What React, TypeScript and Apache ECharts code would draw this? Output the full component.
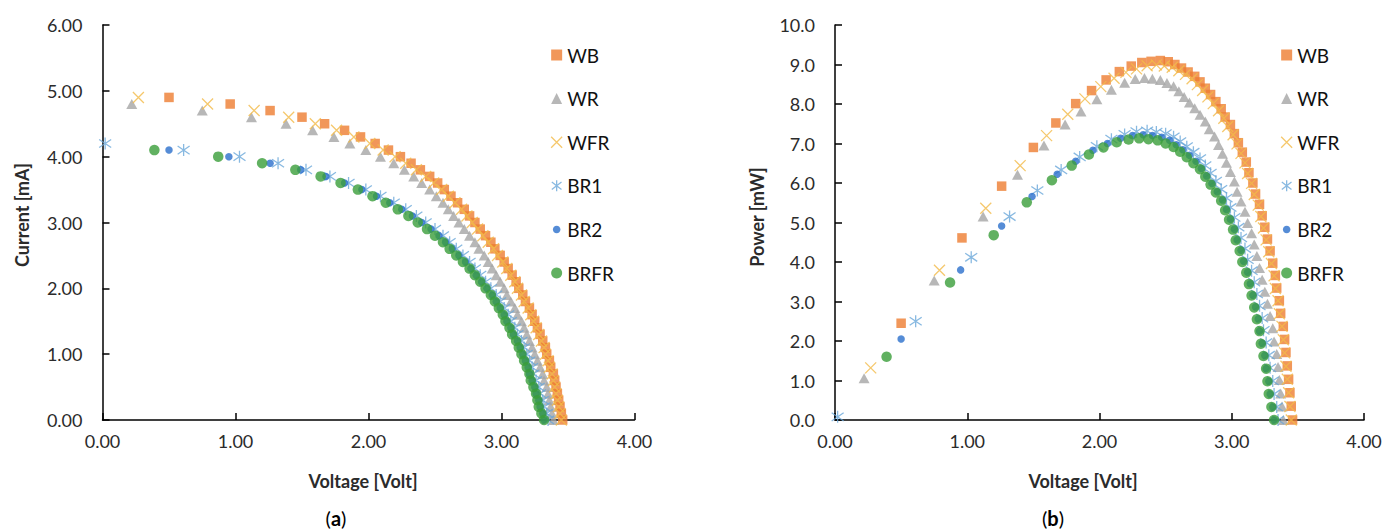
import React, { useEffect, useRef } from "react";
import * as echarts from "echarts";

// ---------- data ----------
const SERIES_NAMES = ["WB", "WR", "WFR", "BR1", "BR2", "BRFR"];

// load current steps (mA), shared by the series
const CURRENT_STEPS = [
  4.9, 4.8, 4.7, 4.6, 4.5, 4.4, 4.3, 4.2, 4.1, 4.0,
  3.9, 3.8, 3.7, 3.6, 3.5, 3.4, 3.3, 3.2, 3.1, 3.0,
  2.9, 2.8, 2.7, 2.6, 2.5, 2.4, 2.3, 2.2, 2.1, 2.0,
  1.9, 1.8, 1.7, 1.6, 1.5, 1.4, 1.3, 1.2, 1.1, 1.0,
  0.9, 0.8, 0.7, 0.6, 0.5, 0.4, 0.3, 0.2, 0.1, 0.0,
];
const wbCurrent = CURRENT_STEPS;
const wrCurrent = CURRENT_STEPS.slice(1);
const wfrCurrent = CURRENT_STEPS;
const br1Current = CURRENT_STEPS.slice(7);
const br2Current = CURRENT_STEPS.slice(8);
const brfrCurrent = CURRENT_STEPS.slice(8);

// voltages (Volt)
const wbVoltage = [
  0.50, 0.96, 1.26, 1.50, 1.67, 1.82, 1.94, 2.05, 2.15, 2.24,
  2.32, 2.39, 2.46, 2.52, 2.57, 2.62, 2.67, 2.72, 2.76, 2.80,
  2.84, 2.88, 2.92, 2.95, 2.99, 3.02, 3.05, 3.08, 3.11, 3.13,
  3.16, 3.18, 3.21, 3.23, 3.25, 3.27, 3.29, 3.31, 3.33, 3.34,
  3.36, 3.37, 3.39, 3.40, 3.41, 3.42, 3.43, 3.44, 3.45, 3.46,
];
const wrVoltage = [
  0.22, 0.75, 1.12, 1.38, 1.58, 1.74, 1.86, 1.98, 2.09,
  2.19, 2.27, 2.34, 2.40, 2.46, 2.51, 2.56, 2.60, 2.64, 2.68,
  2.72, 2.76, 2.80, 2.83, 2.87, 2.90, 2.93, 2.96, 2.99, 3.02,
  3.04, 3.07, 3.10, 3.12, 3.15, 3.17, 3.19, 3.21, 3.23, 3.25,
  3.27, 3.29, 3.31, 3.32, 3.34, 3.35, 3.36, 3.37, 3.38, 3.39,
];
const wfrVoltage = [
  0.27, 0.79, 1.14, 1.40, 1.60, 1.76, 1.89, 2.01, 2.11, 2.20,
  2.28, 2.36, 2.43, 2.49, 2.55, 2.60, 2.65, 2.70, 2.74, 2.78,
  2.82, 2.86, 2.90, 2.94, 2.97, 3.01, 3.04, 3.07, 3.10, 3.12,
  3.15, 3.17, 3.20, 3.22, 3.24, 3.26, 3.28, 3.30, 3.32, 3.33,
  3.35, 3.36, 3.38, 3.39, 3.40, 3.41, 3.42, 3.43, 3.44, 3.45,
];
const br1Voltage = [
  0.02, 0.61, 1.03,
  1.32, 1.53, 1.71, 1.85, 1.98, 2.09, 2.19, 2.28, 2.36, 2.43,
  2.50, 2.56, 2.61, 2.66, 2.71, 2.76, 2.80, 2.84, 2.88, 2.92,
  2.96, 2.99, 3.02, 3.05, 3.07, 3.10, 3.12, 3.15, 3.17, 3.19,
  3.21, 3.23, 3.24, 3.26, 3.28, 3.29, 3.31, 3.32, 3.34, 3.35,
];
const br2Voltage = [
  0.50, 0.95,
  1.26, 1.49, 1.68, 1.82, 1.95, 2.06, 2.16, 2.25, 2.33, 2.40,
  2.47, 2.53, 2.58, 2.63, 2.68, 2.73, 2.77, 2.81, 2.85, 2.89,
  2.93, 2.96, 2.99, 3.02, 3.04, 3.07, 3.09, 3.12, 3.14, 3.16,
  3.18, 3.20, 3.21, 3.23, 3.25, 3.26, 3.28, 3.29, 3.31, 3.32,
];
const brfrVoltage = [
  0.39, 0.87,
  1.20, 1.45, 1.64, 1.79, 1.92, 2.03, 2.13, 2.22, 2.30, 2.37,
  2.44, 2.50, 2.56, 2.61, 2.66, 2.71, 2.76, 2.80, 2.84, 2.88,
  2.92, 2.95, 2.98, 3.01, 3.03, 3.06, 3.08, 3.11, 3.13, 3.15,
  3.17, 3.19, 3.21, 3.22, 3.24, 3.26, 3.27, 3.28, 3.30, 3.32,
];

// power (mW)
const wbPower = [
  2.45, 4.61, 5.92, 6.90, 7.52, 8.01, 8.34, 8.61, 8.82, 8.96,
  9.05, 9.08, 9.10, 9.07, 9.00, 8.91, 8.81, 8.70, 8.56, 8.40,
  8.24, 8.06, 7.88, 7.67, 7.48, 7.25, 7.02, 6.78, 6.53, 6.26,
  6.00, 5.72, 5.46, 5.17, 4.88, 4.58, 4.28, 3.97, 3.66, 3.34,
  3.02, 2.70, 2.37, 2.04, 1.71, 1.37, 1.03, 0.69, 0.35, 0.00,
];
const wrPower = [
  1.06, 3.53, 5.15, 6.21, 6.95, 7.48, 7.81, 8.12, 8.36,
  8.54, 8.63, 8.66, 8.64, 8.61, 8.53, 8.45, 8.32, 8.18, 8.04,
  7.89, 7.73, 7.56, 7.36, 7.18, 6.96, 6.74, 6.51, 6.28, 6.04,
  5.78, 5.53, 5.27, 4.99, 4.73, 4.44, 4.15, 3.85, 3.55, 3.25,
  2.94, 2.63, 2.32, 1.99, 1.67, 1.34, 1.01, 0.67, 0.34, 0.00,
];
const wfrPower = [
  1.32, 3.79, 5.36, 6.44, 7.20, 7.74, 8.13, 8.44, 8.65, 8.80,
  8.89, 8.97, 8.99, 8.96, 8.93, 8.84, 8.75, 8.64, 8.49, 8.34,
  8.18, 8.01, 7.83, 7.64, 7.43, 7.22, 6.99, 6.75, 6.51, 6.24,
  5.99, 5.71, 5.44, 5.15, 4.86, 4.56, 4.26, 3.96, 3.65, 3.33,
  3.02, 2.69, 2.37, 2.03, 1.70, 1.36, 1.03, 0.69, 0.34, 0.00,
];
const br1Power = [
  0.08, 2.50, 4.12,
  5.15, 5.81, 6.33, 6.66, 6.93, 7.11, 7.23, 7.30, 7.32, 7.29,
  7.25, 7.17, 7.05, 6.92, 6.78, 6.62, 6.44, 6.25, 6.05, 5.84,
  5.62, 5.38, 5.13, 4.88, 4.61, 4.34, 4.06, 3.78, 3.49, 3.19,
  2.89, 2.58, 2.27, 1.96, 1.64, 1.32, 0.99, 0.66, 0.33, 0.00,
];
const br2Power = [
  2.05, 3.80,
  4.91, 5.66, 6.22, 6.55, 6.83, 7.00, 7.13, 7.20, 7.22, 7.20,
  7.16, 7.08, 6.97, 6.84, 6.70, 6.55, 6.37, 6.18, 5.99, 5.78,
  5.57, 5.33, 5.08, 4.83, 4.56, 4.30, 4.02, 3.74, 3.45, 3.16,
  2.86, 2.56, 2.25, 1.94, 1.63, 1.30, 0.98, 0.66, 0.33, 0.00,
];
const brfrPower = [
  1.60, 3.48,
  4.68, 5.51, 6.07, 6.44, 6.72, 6.90, 7.03, 7.10, 7.13, 7.11,
  7.08, 7.00, 6.91, 6.79, 6.65, 6.50, 6.35, 6.16, 5.96, 5.76,
  5.55, 5.31, 5.07, 4.82, 4.55, 4.28, 4.00, 3.73, 3.44, 3.15,
  2.85, 2.55, 2.25, 1.93, 1.62, 1.30, 0.98, 0.66, 0.33, 0.00,
];

const VOLTAGE_TICKS = [0, 1, 2, 3, 4];

// ---------- styles ----------
const FONT = "Lato, 'Open Sans', 'Liberation Sans', sans-serif";
const TEXT = "#2b2b2b";

const CROSS = "path://M0,0L10,10M10,0L0,10";
const STAR = "path://M5,0L5,10M0.6,1.6L9.4,8.4M0.6,8.4L9.4,1.6";
// small dot inside a padded 12x12 box, for the BR2 legend icon
const SMALL_DOT =
  "path://M0,0M12,12M6,1.9C8.26,1.9 10.1,3.74 10.1,6C10.1,8.26 8.26,10.1 6,10.1C3.74,10.1 1.9,8.26 1.9,6C1.9,3.74 3.74,1.9 6,1.9Z";

const MARKERS: Record<string, any> = {
  WB: { symbol: "rect", symbolSize: 9.5, itemStyle: { color: "#ED7D31" } },
  WR: { symbol: "triangle", symbolSize: [11, 10], itemStyle: { color: "#A5A5A5" } },
  WFR: { symbol: CROSS, symbolSize: 11, itemStyle: { color: "#F3BA48", borderColor: "#F3BA48", borderWidth: 1.3 } },
  BR1: { symbol: STAR, symbolSize: 12, itemStyle: { color: "#6AA7DA", borderColor: "#6AA7DA", borderWidth: 1.3 } },
  BR2: { symbol: "circle", symbolSize: 7.5, itemStyle: { color: "#2A6FCC" } },
  BRFR: { symbol: "circle", symbolSize: 10.5, itemStyle: { color: "#3A9E3A" } },
};
const LEGEND_ICONS: Record<string, string> = {
  WB: "rect",
  WR: "triangle",
  WFR: CROSS,
  BR1: STAR,
  BR2: SMALL_DOT,
  BRFR: "circle",
};

const zip = (xs: number[], ys: number[]) => xs.map((x, i) => [x, ys[i]]);

const IV_DATA: Record<string, number[][]> = {
  WB: zip(wbVoltage, wbCurrent),
  WR: zip(wrVoltage, wrCurrent),
  WFR: zip(wfrVoltage, wfrCurrent),
  BR1: zip(br1Voltage, br1Current),
  BR2: zip(br2Voltage, br2Current),
  BRFR: zip(brfrVoltage, brfrCurrent),
};
const PV_DATA: Record<string, number[][]> = {
  WB: zip(wbVoltage, wbPower),
  WR: zip(wrVoltage, wrPower),
  WFR: zip(wfrVoltage, wfrPower),
  BR1: zip(br1Voltage, br1Power),
  BR2: zip(br2Voltage, br2Power),
  BRFR: zip(brfrVoltage, brfrPower),
};

function axisCommon(decimals: number, margin: number) {
  return {
    type: "value" as const,
    axisLine: { show: true, onZero: false, lineStyle: { color: "#000", width: 1.5 } },
    axisTick: { show: true, inside: true, length: 7, lineStyle: { color: "#000", width: 1.5 } },
    axisLabel: {
      margin,
      fontSize: 18,
      fontFamily: FONT,
      color: TEXT,
      formatter: (v: number) => v.toFixed(decimals),
    },
    splitLine: { show: false },
  };
}

function legendFor(left: number) {
  return {
    orient: "vertical" as const,
    left,
    top: 40,
    itemWidth: 11,
    itemHeight: 11,
    itemGap: 23.6,
    selectedMode: false,
    textStyle: { fontSize: 19, lineHeight: 20, fontFamily: FONT, color: "#111" },
    data: SERIES_NAMES.map((n) => ({
      name: n,
      icon: LEGEND_ICONS[n],
      itemStyle: { ...MARKERS[n].itemStyle },
    })),
  };
}

export default function App() {
  const ref = useRef<HTMLDivElement>(null);

  useEffect(() => {
    if (!ref.current) return;
    const chart = echarts.init(ref.current, undefined, { renderer: "svg" });

    const series: any[] = [];
    SERIES_NAMES.forEach((n) => {
      series.push({
        name: n,
        type: "scatter",
        xAxisIndex: 0,
        yAxisIndex: 0,
        data: IV_DATA[n],
        ...MARKERS[n],
      });
    });
    SERIES_NAMES.forEach((n) => {
      series.push({
        name: n,
        type: "scatter",
        xAxisIndex: 1,
        yAxisIndex: 1,
        data: PV_DATA[n],
        ...MARKERS[n],
      });
    });

    const titleStyle = { fontSize: 18, fontWeight: "bold", fontFamily: FONT, fill: TEXT };

    chart.setOption({
      animation: false,
      backgroundColor: "#fff",
      grid: [
        { left: 102.5, top: 25, width: 532, height: 395 },
        { left: 835, top: 25, width: 529, height: 395 },
      ],
      xAxis: [
        { ...axisCommon(2, 12), gridIndex: 0, min: VOLTAGE_TICKS[0], max: VOLTAGE_TICKS[4], interval: 1 },
        { ...axisCommon(2, 12), gridIndex: 1, min: VOLTAGE_TICKS[0], max: VOLTAGE_TICKS[4], interval: 1 },
      ],
      yAxis: [
        { ...axisCommon(2, 20), gridIndex: 0, min: 0, max: 6, interval: 1 },
        { ...axisCommon(1, 20), gridIndex: 1, min: 0, max: 10, interval: 1 },
      ],
      legend: [legendFor(545.5), legendFor(1275.5)],
      series,
      graphic: [
        {
          type: "text",
          x: 22,
          y: 215,
          rotation: Math.PI / 2,
          style: { ...titleStyle, text: "Current [mA]", align: "center", verticalAlign: "middle" },
        },
        {
          type: "text",
          x: 363,
          y: 481,
          style: { ...titleStyle, text: "Voltage [Volt]", align: "center", verticalAlign: "middle" },
        },
        {
          type: "text",
          x: 757,
          y: 217,
          rotation: Math.PI / 2,
          style: { ...titleStyle, text: "Power [mW]", align: "center", verticalAlign: "middle" },
        },
        {
          type: "text",
          x: 1083,
          y: 481,
          style: { ...titleStyle, text: "Voltage [Volt]", align: "center", verticalAlign: "middle" },
        },
        {
          type: "text",
          x: 336,
          y: 518,
          style: {
            text: "({b|a})",
            align: "center",
            verticalAlign: "middle",
            fontSize: 20,
            fontFamily: FONT,
            fill: "#000",
            rich: { b: { fontSize: 20, fontWeight: "bold", fontFamily: FONT, fill: "#000" } },
          },
        },
        {
          type: "text",
          x: 1053,
          y: 518,
          style: {
            text: "({b|b})",
            align: "center",
            verticalAlign: "middle",
            fontSize: 20,
            fontFamily: FONT,
            fill: "#000",
            rich: { b: { fontSize: 20, fontWeight: "bold", fontFamily: FONT, fill: "#000" } },
          },
        },
      ],
    });

    return () => chart.dispose();
  }, []);

  return (
    <div
      ref={ref}
      style={{ position: "absolute", left: 0, top: 0, width: 1400, height: 531 }}
    />
  );
}
